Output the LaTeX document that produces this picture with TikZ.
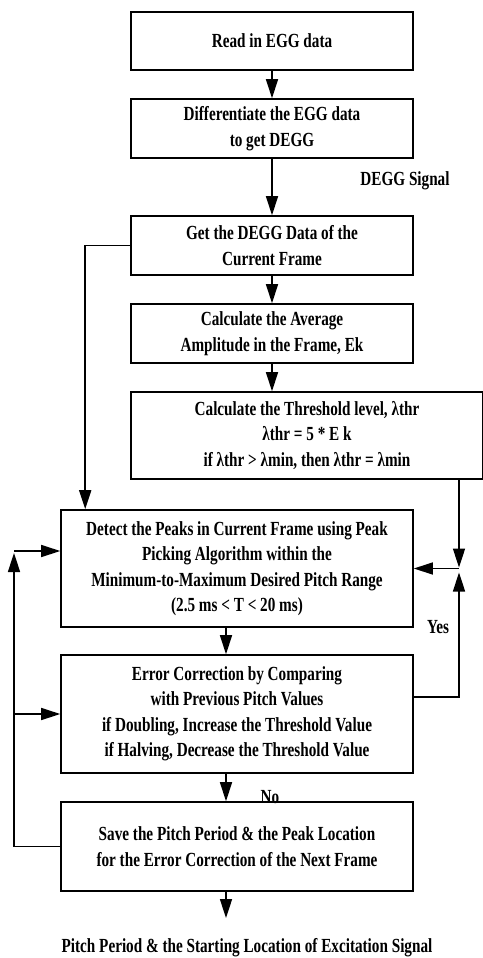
\documentclass[tikz,border=0pt]{standalone}
\usepackage{fontspec}
\setmainfont[FakeStretch=0.76]{Liberation Serif}
\usetikzlibrary{arrows.meta, positioning}

\begin{document}
\begin{tikzpicture}[x=1pt, y=-1pt,
    blk/.style={draw, line width=1.6pt, align=center, inner sep=0pt,
      font=\fontsize{20}{25.5}\selectfont\bfseries},
    arr/.style={line width=1.6pt, -{Triangle[length=19pt,width=12pt]}},
    lbl/.style={inner sep=0pt, font=\fontsize{20}{25.5}\selectfont\bfseries}]
  \useasboundingbox (0,0) rectangle (482,958);
  \node[blk, minimum width=282pt, minimum height=58pt] (read) at (272,41) {Read in EGG data};
  \node[blk, minimum width=282pt, minimum height=59pt] (diff) at (272,128.5)
    {Differentiate the EGG data\\to get DEGG};
  \node[lbl] (sig) at (405,181) {DEGG Signal};
  \node[blk, minimum width=282pt, minimum height=59pt] (frame) at (272,245.5)
    {Get the DEGG Data of the\\Current Frame};
  \node[blk, minimum width=282pt, minimum height=59pt] (avg) at (272,333.5)
    {Calculate the Average\\Amplitude in the Frame, Ek};
  \node[blk, minimum width=352pt, minimum height=87pt] (thr) at (307,435.5)
    {Calculate the Threshold level, λthr\\λthr = 5 * E k\\if λthr > λmin, then λthr = λmin};
  \node[blk, minimum width=352pt, minimum height=117pt] (detect) at (237,568.5)
    {Detect the Peaks in Current Frame using Peak\\Picking Algorithm within the\\
     Minimum-to-Maximum Desired Pitch Range\\(2.5 ms < T < 20 ms)};
  \node[blk, minimum width=352pt, minimum height=118pt] (err) at (237,714)
    {Error Correction by Comparing\\with Previous Pitch Values\\
     if Doubling, Increase the Threshold Value\\if Halving, Decrease the Threshold Value};
  \node[blk, minimum width=352pt, minimum height=89pt] (save) at (237,846.5)
    {Save the Pitch Period \& the Peak Location\\for the Error Correction of the Next Frame};
  \node[lbl] (yes) at (438,627) {Yes};
  \node[lbl] (no) at (270,797) {No};
  \node[lbl] (out) at (247,948) {Pitch Period \& the Starting Location of Excitation Signal};
  \coordinate (jn) at (459,568.5);
  \coordinate (lp) at (14,551);
  \coordinate (end) at (226,918);

  \draw[arr] (read) -- (diff);
  \draw[arr] (diff) -- (frame);
  \draw[arr] (frame) -- (avg);
  \draw[arr] (avg.south) -- (avg.south |- thr.north);
  \draw[arr] (frame.west) -| ([xshift=25pt]detect.north west);
  \draw[arr] (thr.south -| jn) -- ([yshift=1pt]jn);
  \draw[arr] ([yshift=17pt]err.east) -| ([yshift=-4pt]jn);
  \draw[arr] (jn) -- (detect.east);
  \draw[arr] ([xshift=-11pt]detect.south) -- ([xshift=-11pt]err.north);
  \draw[arr] ([xshift=-11pt]err.south) -- ([xshift=-11pt]save.north);
  \draw[arr] ([xshift=-11pt]save.south) -- (end);
  \draw[arr] (save.west) -| ([yshift=-2pt]lp);
  \draw[arr] (lp) -- (lp -| detect.west);
  \draw[arr] (lp |- err.west) -- (err.west);
\end{tikzpicture}
\end{document}
